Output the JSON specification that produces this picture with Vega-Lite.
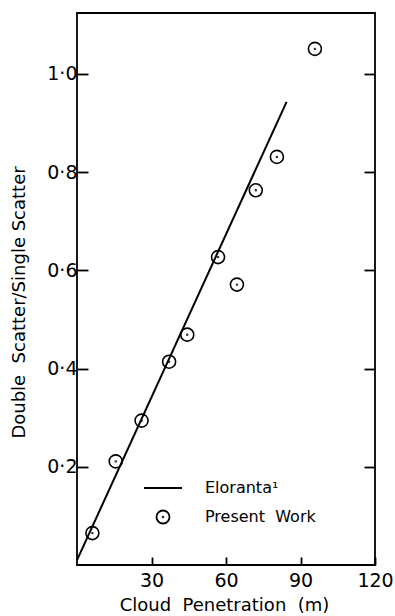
{
  "$schema": "https://vega.github.io/schema/vega-lite/v6.json",
  "width": 298,
  "height": 552,
  "autosize": {"type": "none"},
  "padding": {"left": 77, "top": 13, "right": 20, "bottom": 51},
  "background": "white",
  "config": {
    "font": "DejaVu Sans",
    "view": {"stroke": "black", "strokeWidth": 1.8},
    "axis": {
      "grid": false,
      "domain": false,
      "tickColor": "black",
      "tickWidth": 1.8,
      "labelColor": "black",
      "titleColor": "black",
      "labelFont": "DejaVu Sans",
      "titleFont": "DejaVu Sans",
      "titleFontWeight": "normal"
    }
  },
  "datasets": {
    "eloranta": [
      {"depth": 0, "ratio": 0.01},
      {"depth": 84.4, "ratio": 0.943}
    ],
    "present": [
      {"depth": 6.2, "ratio": 0.065, "series": "Present\u00a0\u00a0Work"},
      {"depth": 15.6, "ratio": 0.211, "series": "Present\u00a0\u00a0Work"},
      {"depth": 26.0, "ratio": 0.294, "series": "Present\u00a0\u00a0Work"},
      {"depth": 37.1, "ratio": 0.414, "series": "Present\u00a0\u00a0Work"},
      {"depth": 44.4, "ratio": 0.469, "series": "Present\u00a0\u00a0Work"},
      {"depth": 56.8, "ratio": 0.627, "series": "Present\u00a0\u00a0Work"},
      {"depth": 64.4, "ratio": 0.571, "series": "Present\u00a0\u00a0Work"},
      {"depth": 72.0, "ratio": 0.763, "series": "Present\u00a0\u00a0Work"},
      {"depth": 80.5, "ratio": 0.831, "series": "Present\u00a0\u00a0Work"},
      {"depth": 95.8, "ratio": 1.051, "series": "Present\u00a0\u00a0Work"}
    ]
  },
  "layer": [
    {
      "data": {"name": "eloranta"},
      "mark": {"type": "line", "color": "black", "strokeWidth": 2},
      "encoding": {
        "x": {
          "field": "depth",
          "type": "quantitative",
          "scale": {"domain": [0, 120], "nice": false},
          "axis": {
            "values": [30, 60, 90, 120],
            "tickSize": -8,
            "labelPadding": 14,
            "labelFontSize": 19,
            "labelFlush": false,
            "title": "Cloud\u00a0\u00a0Penetration\u00a0\u00a0(m)",
            "titleFontSize": 18,
            "titleX": 147,
            "titleY": 40,
            "titleBaseline": "middle",
            "titleAlign": "center"
          }
        },
        "y": {
          "field": "ratio",
          "type": "quantitative",
          "scale": {"domain": [0, 1.124], "nice": false},
          "axis": {
            "orient": "left",
            "values": [0.2, 0.4, 0.6, 0.8, 1.0],
            "tickSize": -11,
            "labelPadding": 11,
            "labelFontSize": 19,
            "labelExpr": "replace(format(datum.value, '.1f'), '.', '\u00b7')",
            "title": "Double\u00a0\u00a0Scatter/Single\u00a0Scatter",
            "titleFontSize": 18,
            "titleAngle": 270,
            "titleX": -58,
            "titleY": 289,
            "titleBaseline": "middle",
            "titleAlign": "center"
          }
        }
      }
    },
    {
      "data": {"name": "present"},
      "mark": {"type": "point", "filled": false, "color": "black", "strokeWidth": 1.6, "opacity": 1},
      "encoding": {
        "x": {"field": "depth", "type": "quantitative", "scale": {"domain": [0, 120], "nice": false}},
        "y": {
          "field": "ratio",
          "type": "quantitative",
          "scale": {"domain": [0, 1.124], "nice": false},
          "axis": {
            "orient": "right",
            "values": [0.2, 0.4, 0.6, 0.8, 1.0],
            "tickSize": -11,
            "labels": false,
            "title": null
          }
        },
        "shape": {
          "field": "series",
          "type": "nominal",
          "scale": {
            "domain": ["Eloranta\u00b9", "Present\u00a0\u00a0Work"],
            "range": ["stroke", "M-1,0A1,1,0,1,0,1,0A1,1,0,1,0,-1,0ZM-0.06,0A0.06,0.06,0,1,0,0.06,0A0.06,0.06,0,1,0,-0.06,0Z"]
          },
          "legend": {
            "title": null,
            "orient": "none",
            "legendX": 66,
            "legendY": 455,
            "padding": 0,
            "labelFontSize": 16,
            "labelFont": "DejaVu Sans",
            "labelColor": "black",
            "labelOffset": 22,
            "symbolStrokeWidth": 1.8,
            "symbolStrokeColor": "black",
            "rowPadding": 10
          }
        },
        "size": {
          "field": "series",
          "type": "nominal",
          "scale": {"type": "ordinal", "domain": ["Eloranta\u00b9", "Present\u00a0\u00a0Work"], "range": [1444, 169]}
        }
      }
    }
  ],
  "resolve": {"axis": {"y": "independent"}}
}
